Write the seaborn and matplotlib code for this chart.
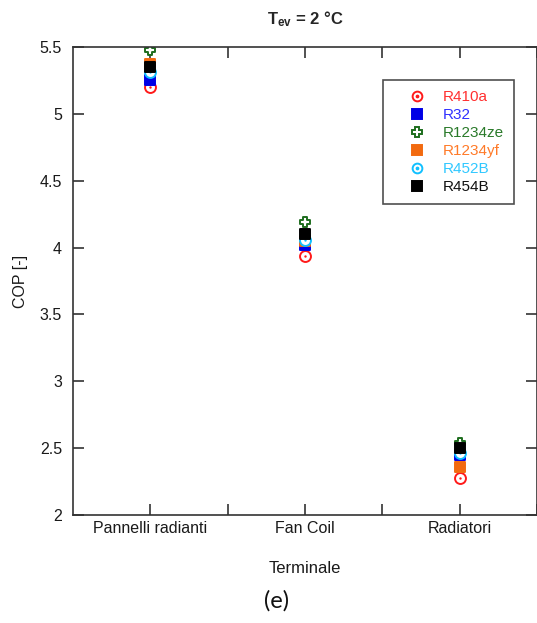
import matplotlib
matplotlib.use("Agg")
import matplotlib.pyplot as plt
from matplotlib.lines import Line2D
from matplotlib.legend_handler import HandlerTuple
import seaborn as sns
import pandas as pd

# COP per terminal type and refrigerant at T_ev = 2 °C
terminals = ["Pannelli radianti", "Fan Coil", "Radiatori"]
refrigerants = ["R410a", "R32", "R1234ze", "R1234yf", "R452B", "R454B"]
cop_r410a = [5.20, 3.94, 2.28]
cop_r32 = [5.25, 4.02, 2.45]
cop_r1234ze = [5.48, 4.19, 2.54]
cop_r1234yf = [5.37, 4.05, 2.36]
cop_r452b = [5.31, 4.06, 2.46]
cop_r454b = [5.35, 4.10, 2.50]
y_ticks = [2, 2.5, 3, 3.5, 4, 4.5, 5, 5.5]
y_tick_labels = ["2", "2.5", "3", "3.5", "4", "4.5", "5", "5.5"]

series = [cop_r410a, cop_r32, cop_r1234ze, cop_r1234yf, cop_r452b, cop_r454b]
df = pd.DataFrame({
    "Terminale": terminals * len(refrigerants),
    "Refrigerante": [r for r in refrigerants for _ in terminals],
    "COP": [v for s in series for v in s],
})
df["pos"] = df["Terminale"].map({t: i for i, t in enumerate(terminals)})

sns.set_theme(style="white")
plt.rcParams["font.family"] = ["Liberation Sans", "DejaVu Sans"]
plt.rcParams["mathtext.fontset"] = "custom"
plt.rcParams["mathtext.rm"] = "Liberation Sans"
plt.rcParams["mathtext.bf"] = "Liberation Sans:bold"

# marker style per refrigerant: (marker, edge colour, face colour, inner dot, text colour)
styles = {
    "R410a": ("o", "#ff1a1a", "white", True, "#ff3030"),
    "R32": ("s", "#0000e6", "#0000e6", False, "#3030ff"),
    "R1234ze": ("P", "#1e6e1e", "white", False, "#2a7a2a"),
    "R1234yf": ("s", "#f26a10", "#f26a10", False, "#ff7a28"),
    "R452B": ("o", "#10c0ff", "white", True, "#30c8ff"),
    "R454B": ("s", "#000000", "#000000", False, "#111111"),
}

fig = plt.figure(figsize=(5.37, 6.23), dpi=100)
ax = fig.add_axes([73 / 537, 1 - 515 / 623, (537 - 73) / 537, (515 - 47) / 623])

handles = []
for ref in refrigerants:
    mk, ec, fc, dot, _ = styles[ref]
    sub = df[df["Refrigerante"] == ref]
    size = 60 if mk == "s" else 62
    sns.scatterplot(data=sub, x="pos", y="COP", ax=ax, marker=mk, s=size,
                    facecolor=fc, edgecolor=ec, linewidth=1.4, legend=False)
    h = Line2D([], [], linestyle="none", marker=mk, markersize=7.5 if mk != "o" else 7,
               markerfacecolor=fc, markeredgecolor=ec, markeredgewidth=1.4)
    if dot:
        sns.scatterplot(data=sub, x="pos", y="COP", ax=ax, marker="o", s=3,
                        color=ec, linewidth=0, legend=False)
        d = Line2D([], [], linestyle="none", marker="o", markersize=1.7,
                   markerfacecolor=ec, markeredgecolor=ec)
        h = (h, d)
    handles.append(h)

ax.set_xlim(-0.5, 2.5)
ax.set_ylim(2, 5.5)
ax.set_xticks([0, 0.5, 1, 1.5, 2, 2.5])
ax.set_xticklabels(["Pannelli radianti", "", "Fan Coil", "", "Radiatori", ""])
ax.set_yticks(y_ticks)
ax.set_yticklabels(y_tick_labels)
ax.tick_params(axis="both", direction="in", length=8, width=1.2, color="#333333",
               labelsize=11.5, labelcolor="#1a1a1a",
               top=True, right=True, bottom=True, left=True)
ax.tick_params(axis="x", pad=4)
ax.tick_params(axis="y", pad=8)
for sp in ax.spines.values():
    sp.set_color("#333333")
    sp.set_linewidth(1.2)

ax.set_xlabel("Terminale", fontsize=12, color="#1a1a1a", labelpad=18)
ax.set_ylabel("COP [-]", fontsize=11.5, color="#1a1a1a", labelpad=8)
ax.set_title(r"$\mathbf{T_{ev}}$" + " = 2 °C", fontsize=12, fontweight="bold",
             pad=16)

leg = ax.legend(handles, refrigerants, loc="upper left",
                bbox_to_anchor=(0.668, 0.929), frameon=True, fancybox=False,
                edgecolor="#222222", fontsize=11, labelspacing=0.26,
                handlelength=3.1, handletextpad=0.15, borderpad=0.65,
                borderaxespad=0,
                handler_map={tuple: HandlerTuple(ndivide=1, pad=0)})
leg.get_frame().set_linewidth(1.2)
for txt, ref in zip(leg.get_texts(), refrigerants):
    txt.set_color(styles[ref][4])

fig.text(277 / 537, 1 - 601 / 623, "(e)", ha="center", va="center",
         fontsize=17, family=["Lato", "DejaVu Sans"], color="#111111")

fig.savefig("out.png", dpi=100)
